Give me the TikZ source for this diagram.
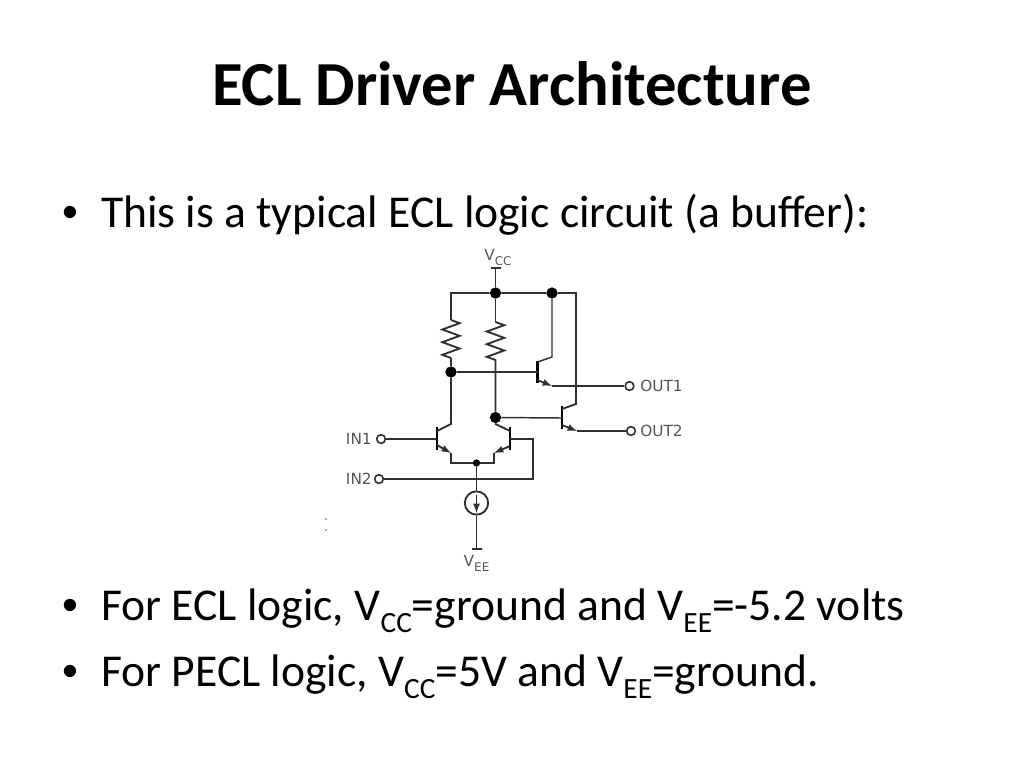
\documentclass[tikz,border=0pt]{standalone}
\usepackage{fontspec}
\setmainfont{Carlito}
\newfontfamily\pinfont{DejaVu Sans}
\newfontfamily\dotfont{Liberation Sans}
\usetikzlibrary{decorations.pathmorphing}
\definecolor{wirecol}{HTML}{303030}
\definecolor{labelcol}{HTML}{555555}
\newcommand{\lowtext}[1]{\raisebox{-0.55ex}{\fontsize{22}{22}\selectfont #1}}
\newcommand{\pinsub}[1]{\raisebox{-0.6ex}{\fontsize{9}{9}\selectfont #1}}
\tikzset{
  wire/.style={draw=wirecol, line width=1.4pt},
  thinwire/.style={draw=wirecol, line width=1.1pt},
  bar/.style={draw=black, line width=1.8pt},
  resistor/.style={wire, decorate, decoration={zigzag, segment length=9.5pt, amplitude=6.5pt}},
  dot/.style={circle, fill=black, inner sep=0pt, minimum size=8.5pt},
  smalldot/.style={circle, fill=black, inner sep=0pt, minimum size=5.5pt},
  pin/.style={circle, draw=wirecol, fill=white, line width=1.2pt, inner sep=0pt, minimum size=6.5pt},
  pinlabel/.style={text=labelcol, font=\pinfont\fontsize{11.5}{11.5}\selectfont, inner sep=0pt},
  bullet/.style={font=\fontsize{34.2}{34.2}\selectfont, anchor=base west, inner sep=0pt},
  bulletdot/.style={font=\dotfont\fontsize{34}{34}\selectfont, anchor=base west, inner sep=0pt},
  emitarrow/.style={wire, -latex}
}
\begin{document}
\begin{tikzpicture}[x=.75pt,y=-.75pt]
  \useasboundingbox (0,0) rectangle (1024,768);

  % slide text
  \node[font=\bfseries\fontsize{47}{47}\selectfont, anchor=base, inner sep=0pt] (title) at (512,105) {ECL Driver Architecture};
  \node[bulletdot] (dot1) at (62,227) {•};
  \node[bullet] (line1) at (101,227) {This is a typical ECL logic circuit (a buffer):};
  \node[bulletdot] (dot2) at (62,620.5) {•};
  \node[bullet] (line2) at (101,620.5) {For ECL logic, V\lowtext{CC}=ground and V\lowtext{EE}=-5.2 volts};
  \node[bulletdot] (dot3) at (62,686.5) {•};
  \node[bullet] (line3) at (101,686.5) {For PECL logic, V\lowtext{CC}=5V and V\lowtext{EE}=ground.};

  % junctions and pins
  \node[dot] (top) at (495.5,293) {};
  \node[dot] (topr) at (552,293) {};
  \node[dot] (midl) at (451,372) {};
  \node[dot] (midr) at (495.5,417.5) {};
  \node[smalldot] (tail) at (476.5,463) {};
  \node[pin] (in1) at (381,439) {};
  \node[pin] (in2) at (379,479) {};
  \node[pin] (out1) at (629.5,386) {};
  \node[pin] (out2) at (631,431) {};

  % supply ticks and corners
  \coordinate (vcc) at (495.5,268);
  \coordinate (vccl) at (490.5,268);
  \coordinate (vccr) at (500.5,268);
  \coordinate (vee) at (476.5,549);
  \coordinate (veel) at (471.5,549);
  \coordinate (veer) at (481.5,549);
  \coordinate (cornl) at (451,293);
  \coordinate (cornr) at (576,293);
  \coordinate (rla) at (451,320);
  \coordinate (rlb) at (451,358);
  \coordinate (rra) at (495.5,322);
  \coordinate (rrb) at (495.5,362);

  % transistors: base, collector, emitter
  \coordinate (b1) at (437,439);
  \coordinate (c1) at (451,424);
  \coordinate (k1) at (437,431);
  \coordinate (a1) at (437,445);
  \coordinate (e1) at (451,453);
  \coordinate (b2) at (510,439);
  \coordinate (c2) at (495.5,424);
  \coordinate (k2) at (510,431);
  \coordinate (a2) at (510,446);
  \coordinate (e2) at (494,453);
  \coordinate (b3) at (537.5,372);
  \coordinate (c3) at (552,357);
  \coordinate (k3) at (537.5,362);
  \coordinate (a3) at (537.5,380);
  \coordinate (e3) at (552,386);
  \coordinate (b4) at (562,418);
  \coordinate (c4) at (576,404);
  \coordinate (k4) at (562,409);
  \coordinate (a4) at (562,425);
  \coordinate (e4) at (577,431);

  \draw[bar] (437,427) -- (437,450);
  \draw[bar] (510,427) -- (510,450);
  \draw[bar] (537.5,361) -- (537.5,383);
  \draw[bar] (562,406) -- (562,429);

  % current source
  \node[circle, draw=wirecol, line width=1.4pt, inner sep=0pt, minimum size=17.5pt] (src) at (476.5,503) {};
  \coordinate (srca) at (476.5,495);
  \coordinate (srcb) at (476.5,513);

  % wiring
  \draw[wire] (vcc) -- (top);
  \draw[wire] (vccl) -- (vccr);
  \draw[wire] (rla) -- (cornl) -- (top) -- (topr) -- (cornr) -- (c4) -- (k4);
  \draw[wire] (top) -- (rra);
  \draw[resistor] (rla) -- (rlb);
  \draw[resistor] (rra) -- (rrb);
  \draw[wire] (rlb) -- (midl) -- (c1) -- (k1);
  \draw[wire] (rrb) -- (midr) -- (c2) -- (k2);
  \draw[thinwire] (midl) -- (b3);
  \draw[thinwire] (midr) -- (b4);
  \draw[thinwire] (topr) -- (c3) -- (k3);
  \draw[emitarrow] (a1) -- (e1);
  \draw[wire] (e1) |- (tail) -| (e2);
  \draw[emitarrow] (a2) -- (e2);
  \draw[emitarrow] (a3) -- (e3);
  \draw[thinwire] (e3) -- (out1);
  \draw[emitarrow] (a4) -- (e4);
  \draw[thinwire] (e4) -- (out2);
  \draw[wire] (in1) -- (b1);
  \coordinate (bendb) at (533,439);
  \coordinate (bendc) at (533,479);
  \draw[wire] (b2) -- (bendb) -- (bendc) -- (in2);
  \draw[wire] (tail) -- (src);
  \draw[wire] (src) -- (vee);
  \draw[wire] (veel) -- (veer);
  \draw[wire, -latex] (srca) -- (srcb);

  % pin labels
  \node[pinlabel, anchor=west] (lout1) at (640,386) {OUT1};
  \node[pinlabel, anchor=west] (lout2) at (640,431) {OUT2};
  \node[pinlabel, anchor=east] (lin1) at (372,439) {IN1};
  \node[pinlabel, anchor=east] (lin2) at (372,479) {IN2};
  \node[pinlabel, anchor=base] (lvcc) at (498,260) {V\pinsub{CC}};
  \node[pinlabel, anchor=base] (lvee) at (476.5,566) {V\pinsub{EE}};

  % stray marks
  \fill[teal] (326,519) circle (.6pt);
  \fill[teal] (326,530) circle (.6pt);
\end{tikzpicture}
\end{document}
